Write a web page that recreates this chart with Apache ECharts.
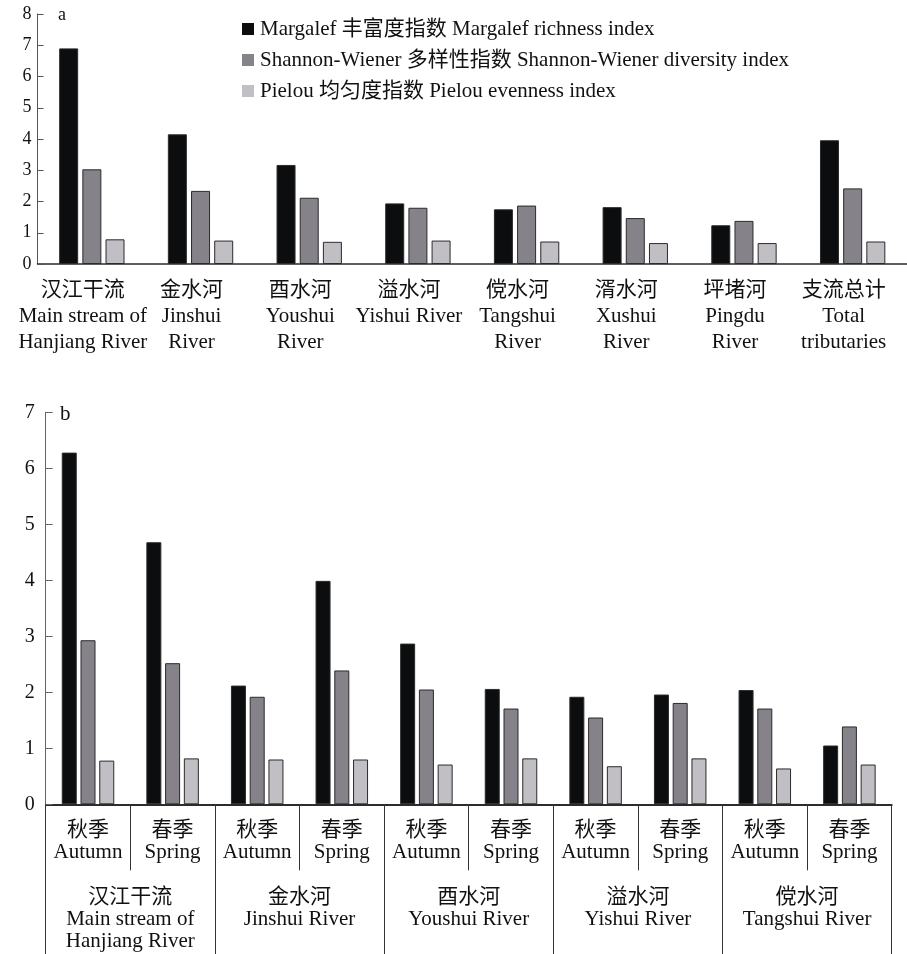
<!DOCTYPE html>
<html>
<head>
<meta charset="utf-8">
<script src="https://cdn.jsdelivr.net/npm/echarts@6/dist/echarts.min.js"></script>
<style>
  html, body { margin: 0; padding: 0; background: #fff; }
  #chart { width: 907px; height: 954px; }
</style>
</head>
<body>
<div id="chart"></div>
<script>
// Series names (legend)
const seriesNames = [
  'Margalef 丰富度指数 Margalef richness index',
  'Shannon-Wiener 多样性指数 Shannon-Wiener diversity index',
  'Pielou 均匀度指数 Pielou evenness index'
];
const seriesColors = ['#0b0d0e', '#85828a', '#c1bec4'];

// Panel a: rivers
const riversA = [
  '汉江干流\nMain stream of\nHanjiang River',
  '金水河\nJinshui\nRiver',
  '酉水河\nYoushui\nRiver',
  '溢水河\nYishui River',
  '傥水河\nTangshui\nRiver',
  '湑水河\nXushui\nRiver',
  '坪堵河\nPingdu\nRiver',
  '支流总计\nTotal\ntributaries'
];
const margalefA = [6.90, 4.15, 3.17, 1.94, 1.75, 1.82, 1.24, 3.96];
const shannonA  = [3.03, 2.34, 2.12, 1.80, 1.87, 1.47, 1.38, 2.42];
const pielouA   = [0.79, 0.75, 0.71, 0.75, 0.72, 0.67, 0.67, 0.72];

// Panel b: seasons within rivers
const seasonsB = [
  '秋季\nAutumn', '春季\nSpring', '秋季\nAutumn', '春季\nSpring', '秋季\nAutumn',
  '春季\nSpring', '秋季\nAutumn', '春季\nSpring', '秋季\nAutumn', '春季\nSpring'
];
const riversB = [
  '汉江干流\nMain stream of\nHanjiang River',
  '金水河\nJinshui River',
  '酉水河\nYoushui River',
  '溢水河\nYishui River',
  '傥水河\nTangshui River'
];
const margalefB = [6.28, 4.68, 2.12, 3.99, 2.87, 2.06, 1.92, 1.96, 2.04, 1.05];
const shannonB  = [2.93, 2.52, 1.92, 2.39, 2.05, 1.71, 1.55, 1.81, 1.71, 1.39];
const pielouB   = [0.78, 0.82, 0.80, 0.80, 0.71, 0.82, 0.68, 0.82, 0.64, 0.71];

const FONT = "'Liberation Serif', 'Noto Sans CJK SC', serif";
const axisDark = '#2a2a2a';

const chart = echarts.init(document.getElementById('chart'), null, { renderer: 'canvas' });

function barSeries(name, data, color, xIdx, yIdx, width, gap) {
  return {
    name: name,
    type: 'bar',
    xAxisIndex: xIdx,
    yAxisIndex: yIdx,
    data: data,
    barWidth: width,
    barGap: gap,
    itemStyle: { color: color, borderColor: '#2b2b2b', borderWidth: 1 },
    emphasis: { disabled: true },
    animation: false
  };
}

// panel b box, shared by the plot grid and the two label/divider layers
const gridB = { left: 45.7, right: 15.3, top: 412.3, bottom: 149.7, containLabel: false };

function hiddenY(gridIndex) {
  return {
    type: 'value', gridIndex: gridIndex, min: 0, max: 1,
    axisLine: { show: false }, axisTick: { show: false },
    axisLabel: { show: false }, splitLine: { show: false }
  };
}

const option = {
  animation: false,
  backgroundColor: '#ffffff',
  textStyle: { fontFamily: FONT, color: '#111' },
  title: [
    { text: 'a', left: 58, top: 6, padding: 0,
      textStyle: { fontFamily: FONT, fontSize: 18, fontWeight: 'normal', color: '#111' } },
    { text: 'b', left: 60, top: 404, padding: 0,
      textStyle: { fontFamily: FONT, fontSize: 21, fontWeight: 'normal', color: '#111' } }
  ],
  legend: {
    data: seriesNames,
    orient: 'vertical',
    left: 242,
    top: 18,
    padding: 0,
    itemWidth: 12,
    itemHeight: 12,
    itemGap: 9,
    icon: 'rect',
    itemStyle: { borderWidth: 0 },
    textStyle: { fontFamily: FONT, fontSize: 21, color: '#111', lineHeight: 22, padding: [0, 0, 0, 1] },
    selectedMode: false
  },
  grid: [
    { left: 37.5, right: -7, top: 14, bottom: 690, containLabel: false },
    Object.assign({}, gridB),
    Object.assign({}, gridB),
    Object.assign({}, gridB)
  ],
  xAxis: [
    {
      type: 'category', gridIndex: 0, data: riversA,
      axisLine: { lineStyle: { color: axisDark, width: 1.5 } },
      axisTick: { inside: true, length: 5, lineStyle: { color: '#444' } },
      axisLabel: {
        interval: 0, margin: 13, fontFamily: FONT, fontSize: 21, lineHeight: 26,
        color: '#111', padding: [0, 18, 0, 0]
      }
    },
    {
      type: 'category', gridIndex: 1, data: seasonsB,
      axisLine: { lineStyle: { color: axisDark, width: 1.5 } },
      axisTick: { inside: true, length: 5, lineStyle: { color: '#444' } },
      axisLabel: {
        interval: 0, margin: 15, fontFamily: FONT, fontSize: 21, lineHeight: 22, color: '#111'
      }
    },
    {
      // season dividers under the axis
      type: 'category', gridIndex: 2, data: seasonsB,
      axisLine: { show: true, lineStyle: { color: axisDark, width: 1.5 } },
      axisTick: { show: true, interval: 0, length: 66, lineStyle: { color: '#333', width: 1 } },
      axisLabel: { show: true, interval: 0, color: 'rgba(0,0,0,0)', fontSize: 1 }
    },
    {
      // river dividers and river names
      type: 'category', gridIndex: 3, data: riversB,
      axisLine: { show: true, lineStyle: { color: axisDark, width: 1.5 } },
      axisTick: { show: true, interval: 0, length: 160, lineStyle: { color: '#333', width: 1 } },
      axisLabel: {
        interval: 0, margin: 82, fontFamily: FONT, fontSize: 21, lineHeight: 22, color: '#111'
      }
    }
  ],
  yAxis: [
    {
      type: 'value', gridIndex: 0, min: 0, max: 8, interval: 1,
      axisLine: { show: true, lineStyle: { color: '#555' } },
      axisTick: { show: true, inside: true, length: 6, lineStyle: { color: '#555' } },
      splitLine: { show: false },
      axisLabel: { margin: 6, fontFamily: FONT, fontSize: 18, color: '#111' }
    },
    {
      type: 'value', gridIndex: 1, min: 0, max: 7, interval: 1,
      axisLine: { show: true, lineStyle: { color: '#666' } },
      axisTick: { show: true, inside: true, length: 7, lineStyle: { color: '#666' } },
      splitLine: { show: false },
      axisLabel: { margin: 11, fontFamily: FONT, fontSize: 20, color: '#111' }
    },
    hiddenY(2),
    hiddenY(3)
  ],
  series: [
    barSeries(seriesNames[0], margalefA, seriesColors[0], 0, 0, 19, '22%'),
    barSeries(seriesNames[1], shannonA,  seriesColors[1], 0, 0, 19, '22%'),
    barSeries(seriesNames[2], pielouA,   seriesColors[2], 0, 0, 19, '22%'),
    barSeries(seriesNames[0], margalefB, seriesColors[0], 1, 1, 15, '25%'),
    barSeries(seriesNames[1], shannonB,  seriesColors[1], 1, 1, 15, '25%'),
    barSeries(seriesNames[2], pielouB,   seriesColors[2], 1, 1, 15, '25%')
  ]
};

chart.setOption(option);
</script>
</body>
</html>
